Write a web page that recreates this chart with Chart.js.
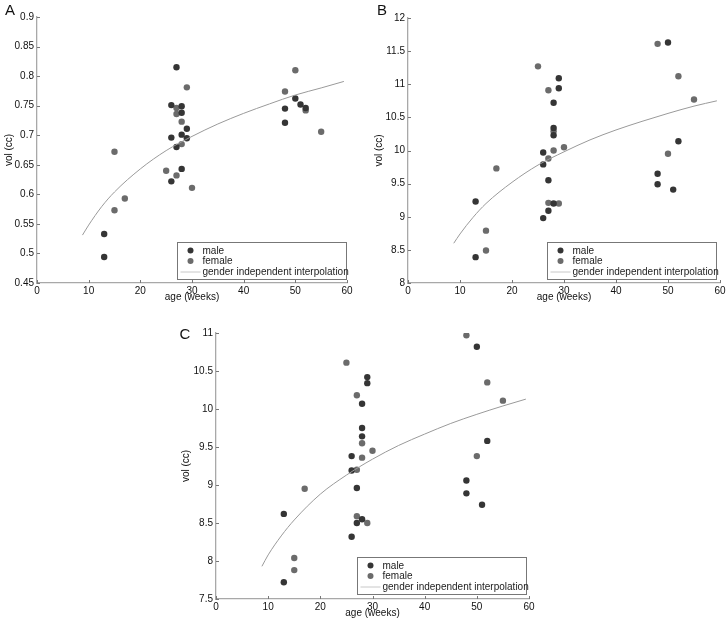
<!DOCTYPE html>
<html>
<head>
<meta charset="utf-8">
<script src="https://cdn.jsdelivr.net/npm/chart.js@4.4.1/dist/chart.umd.min.js"></script>
<style>
  html, body { margin: 0; padding: 0; background: #fff; }
  body { width: 728px; height: 624px; position: relative; overflow: hidden; }
  canvas { position: absolute; }
</style>
</head>
<body>
<canvas id="panelA" width="364" height="305" style="left:0;top:0"></canvas>
<canvas id="panelB" width="364" height="305" style="left:364px;top:0"></canvas>
<canvas id="panelC" width="380" height="314" style="left:170px;top:310px"></canvas>
<script>
// panel A
const aMaleAge = [13, 13, 27, 26, 28, 28, 26, 28, 29, 29, 27, 28, 26, 48, 48, 50, 51, 52];
const aMaleVol = [0.533, 0.494, 0.815, 0.751, 0.749, 0.738, 0.696, 0.701, 0.711, 0.695, 0.680, 0.643, 0.622, 0.745, 0.721, 0.762, 0.752, 0.746];
const aFemaleAge = [15, 15, 17, 25, 27, 27, 27, 28, 28, 29, 30, 48, 50, 52, 55];
const aFemaleVol = [0.672, 0.573, 0.593, 0.640, 0.632, 0.746, 0.736, 0.723, 0.685, 0.781, 0.611, 0.774, 0.810, 0.742, 0.706];

// panel B
const bMaleAge = [13, 13, 26, 26, 26, 27, 27, 28, 28, 28, 28, 29, 29, 48, 48, 50, 51, 52];
const bMaleVol = [9.23, 8.39, 9.97, 9.79, 8.98, 9.55, 9.09, 10.72, 10.34, 10.23, 9.20, 11.09, 10.94, 9.65, 9.49, 11.63, 9.41, 10.14];
const bFemaleAge = [15, 15, 17, 25, 27, 27, 27, 28, 28, 29, 30, 48, 50, 52, 55];
const bFemaleVol = [8.79, 8.49, 9.73, 11.27, 10.91, 9.88, 9.21, 10.29, 10.00, 9.20, 10.05, 11.61, 9.95, 11.12, 10.77];

// panel C
const cMaleAge = [13, 13, 26, 26, 26, 27, 27, 28, 28, 28, 28, 29, 29, 48, 48, 50, 51, 52];
const cMaleVol = [8.62, 7.72, 9.38, 9.19, 8.32, 8.96, 8.50, 10.07, 9.75, 9.64, 8.55, 10.42, 10.34, 9.06, 8.89, 10.82, 8.74, 9.58];
const cFemaleAge = [15, 15, 17, 25, 27, 27, 27, 28, 28, 29, 30, 48, 50, 52, 55];
const cFemaleVol = [8.04, 7.88, 8.95, 10.61, 10.18, 9.20, 8.59, 9.55, 9.36, 8.50, 9.45, 10.97, 9.38, 10.35, 10.11];

// interpolation curves
const curveAge = [8.8, 10, 12.5, 15, 20, 25, 30, 35, 40, 45, 50, 55, 59.4];
const aCurveVol = [0.531, 0.548, 0.579, 0.604, 0.643, 0.674, 0.698, 0.719, 0.737, 0.753, 0.768, 0.780, 0.791];
const bCurveVol = [8.60, 8.74, 8.99, 9.20, 9.52, 9.78, 9.98, 10.16, 10.31, 10.44, 10.56, 10.67, 10.75];
const cCurveVol = [7.93, 8.08, 8.33, 8.54, 8.88, 9.13, 9.34, 9.52, 9.67, 9.81, 9.93, 10.04, 10.13];

const legendLabels = ['male', 'female', 'gender independent interpolation'];

const maleColor = '#353535';
const femaleColor = '#6b6b6b';
const curveColor = '#9a9a9a';
const axisColor = '#a8a8a8';
const tickColor = '#777';
const fontFamily = 'Helvetica, "Liberation Sans", Arial, sans-serif';

function pts(xs, ys) {
  return xs.map((x, i) => ({ x, y: ys[i] }));
}

// MATLAB-ish inward ticks, panel letter and boxed legend
const matlabLook = {
  id: 'matlabLook',
  afterDraw(chart, args, opts) {
    const { ctx, chartArea, scales } = chart;
    ctx.save();
    ctx.strokeStyle = tickColor;
    ctx.lineWidth = 1;
    ctx.beginPath();
    scales.x.ticks.forEach(t => {
      const px = Math.round(scales.x.getPixelForValue(t.value)) + 0.5;
      ctx.moveTo(px, chartArea.bottom);
      ctx.lineTo(px, chartArea.bottom - 3);
    });
    scales.y.ticks.forEach(t => {
      const py = Math.round(scales.y.getPixelForValue(t.value)) + 0.5;
      ctx.moveTo(chartArea.left, py);
      ctx.lineTo(chartArea.left + 3, py);
    });
    ctx.stroke();

    // panel letter
    ctx.fillStyle = '#111';
    ctx.font = '15px ' + fontFamily;
    ctx.textAlign = 'center';
    ctx.textBaseline = 'middle';
    ctx.fillText(opts.letter, opts.letterX, opts.letterY);

    // legend box
    const w = 169, h = 37;
    const x = Math.round(chartArea.right - opts.legRight - w) + 0.5;
    const y = Math.round(chartArea.bottom - opts.legBottom - h) + 0.5;
    ctx.fillStyle = '#fff';
    ctx.fillRect(x, y, w, h);
    ctx.strokeStyle = '#777';
    ctx.strokeRect(x, y, w, h);
    ctx.font = '10px ' + fontFamily;
    ctx.textAlign = 'left';
    ctx.fillStyle = maleColor;
    ctx.beginPath(); ctx.arc(x + 13, y + 8, 3, 0, Math.PI * 2); ctx.fill();
    ctx.fillStyle = femaleColor;
    ctx.beginPath(); ctx.arc(x + 13, y + 18.5, 3, 0, Math.PI * 2); ctx.fill();
    ctx.strokeStyle = '#c8c8c8';
    ctx.beginPath(); ctx.moveTo(x + 3, y + 29.5); ctx.lineTo(x + 23, y + 29.5); ctx.stroke();
    ctx.fillStyle = '#222';
    ctx.fillText(legendLabels[0], x + 25, y + 8.5);
    ctx.fillText(legendLabels[1], x + 25, y + 19);
    ctx.fillText(legendLabels[2], x + 25, y + 29.5);
    ctx.restore();
  }
};

function buildPanel({ id, male, female, curve, yMin, yMax, yStep, padding, yWidth, xHeight, yTitlePad, xTitlePad, letter, letterX, letterY, legRight, legBottom }) {
  const tickFont = { size: 10, family: fontFamily };
  return new Chart(document.getElementById(id), {
    type: 'scatter',
    data: {
      datasets: [
        {
          label: legendLabels[1],
          data: female,
          backgroundColor: femaleColor,
          borderWidth: 0,
          pointRadius: 3.2,
          order: 2
        },
        {
          label: legendLabels[0],
          data: male,
          backgroundColor: maleColor,
          borderWidth: 0,
          pointRadius: 3.2,
          order: 1
        },
        {
          label: legendLabels[2],
          data: curve,
          showLine: true,
          borderColor: curveColor,
          borderWidth: 1,
          pointRadius: 0,
          tension: 0.4,
          cubicInterpolationMode: 'monotone',
          order: 0
        }
      ]
    },
    options: {
      responsive: false,
      animation: false,
      devicePixelRatio: 1,
      layout: { padding },
      plugins: {
        legend: { display: false },
        tooltip: { enabled: false },
        matlabLook: { letter, letterX, letterY, legRight, legBottom }
      },
      scales: {
        x: {
          type: 'linear',
          min: 0,
          max: 60,
          grid: { display: false, drawTicks: false },
          border: { display: true, color: axisColor, width: 1.3 },
          ticks: { stepSize: 10, font: tickFont, color: '#111', padding: 2, maxRotation: 0 },
          title: { display: true, text: 'age (weeks)', font: tickFont, color: '#111', padding: { top: 0, bottom: xTitlePad } },
          afterFit: s => { s.height = xHeight; }
        },
        y: {
          type: 'linear',
          min: yMin,
          max: yMax,
          grid: { display: false, drawTicks: false },
          border: { display: true, color: axisColor, width: 1.3 },
          ticks: {
            stepSize: yStep,
            font: tickFont,
            color: '#111',
            padding: 3,
            callback: v => String(Number(v.toFixed(2)))
          },
          title: { display: true, text: 'vol (cc)', font: tickFont, color: '#111', padding: { top: yTitlePad, bottom: 0 } },
          afterFit: s => { s.width = yWidth; }
        }
      }
    },
    plugins: [matlabLook]
  });
}

buildPanel({
  id: 'panelA',
  male: pts(aMaleAge, aMaleVol),
  female: pts(aFemaleAge, aFemaleVol),
  curve: pts(curveAge, aCurveVol),
  yMin: 0.45, yMax: 0.9, yStep: 0.05,
  padding: { top: 17, right: 17, left: 0, bottom: 0 },
  yWidth: 37, xHeight: 22, yTitlePad: 3, xTitlePad: 2,
  letter: 'A', letterX: 10, letterY: 11,
  legRight: 1, legBottom: 4
});

buildPanel({
  id: 'panelB',
  male: pts(bMaleAge, bMaleVol),
  female: pts(bFemaleAge, bFemaleVol),
  curve: pts(curveAge, bCurveVol),
  yMin: 8, yMax: 12, yStep: 0.5,
  padding: { top: 18, right: 8, left: 0, bottom: 0 },
  yWidth: 44, xHeight: 22, yTitlePad: 9, xTitlePad: 2,
  letter: 'B', letterX: 18, letterY: 11,
  legRight: 4, legBottom: 4
});

buildPanel({
  id: 'panelC',
  male: pts(cMaleAge, cMaleVol),
  female: pts(cFemaleAge, cFemaleVol),
  curve: pts(curveAge, cCurveVol),
  yMin: 7.5, yMax: 11, yStep: 0.5,
  padding: { top: 23, right: 21, left: 0, bottom: 0 },
  yWidth: 46, xHeight: 25, yTitlePad: 10, xTitlePad: 5,
  letter: 'C', letterX: 15, letterY: 25,
  legRight: 3, legBottom: 5
});
</script>
</body>
</html>
